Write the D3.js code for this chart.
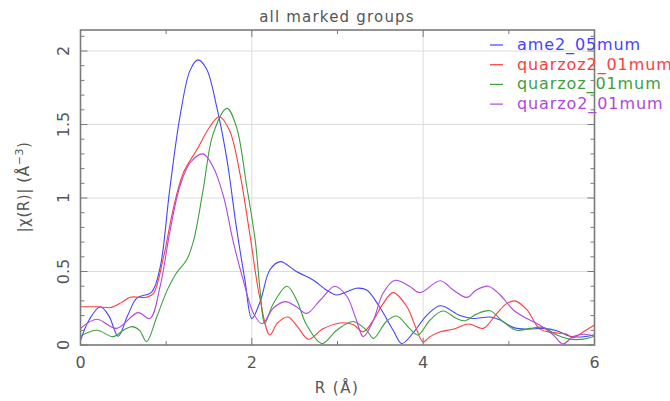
<!DOCTYPE html>
<html lang="en">
<head>
<meta charset="utf-8">
<title>all marked groups</title>
<script src="https://cdn.jsdelivr.net/npm/d3@7"></script>
<style>
  body { margin: 0; background: #fff; }
  svg text { font-family: "DejaVu Sans", sans-serif; fill: #555; }
</style>
</head>
<body>
<svg id="chart" width="670" height="401"></svg>
<script>
// R values (Å) and |chi(R)| for each marked group
var rAme = [0, 0.1, 0.23, 0.33, 0.44, 0.55, 0.66, 0.83, 0.93, 1.04, 1.16, 1.28, 1.37, 1.47, 1.59, 1.71, 1.82, 1.92, 2.0, 2.1, 2.21, 2.33, 2.52, 2.72, 2.87, 2.99, 3.1, 3.22, 3.34, 3.49, 3.65, 3.75, 3.88, 4.04, 4.2, 4.43, 4.58, 4.78, 4.9, 5.05, 5.21, 5.4, 5.56, 5.71, 5.87, 6.0];
var chiAme = [0.03, 0.17, 0.26, 0.2, 0.06, 0.2, 0.32, 0.36, 0.53, 1.05, 1.55, 1.87, 1.94, 1.88, 1.62, 1.26, 0.8, 0.44, 0.18, 0.3, 0.51, 0.567, 0.5, 0.44, 0.374, 0.34, 0.36, 0.386, 0.374, 0.26, 0.1, 0.01, 0.08, 0.2, 0.267, 0.2, 0.18, 0.19, 0.17, 0.12, 0.107, 0.113, 0.097, 0.06, 0.056, 0.07];

var rQz2 = [0, 0.2, 0.35, 0.48, 0.58, 0.77, 0.85, 0.97, 1.08, 1.2, 1.36, 1.51, 1.62, 1.74, 1.86, 1.98, 2.09, 2.21, 2.3, 2.42, 2.54, 2.66, 2.83, 3.03, 3.18, 3.3, 3.42, 3.53, 3.65, 3.81, 3.92, 4.0, 4.08, 4.2, 4.35, 4.53, 4.7, 4.86, 4.97, 5.07, 5.21, 5.36, 5.52, 5.67, 5.75, 5.87, 6.0];
var chiQz2 = [0.26, 0.26, 0.255, 0.29, 0.325, 0.325, 0.35, 0.6, 0.92, 1.17, 1.33, 1.485, 1.553, 1.46, 1.17, 0.74, 0.33, 0.068, 0.15, 0.19, 0.12, 0.039, 0.11, 0.15, 0.14, 0.09, 0.17, 0.28, 0.356, 0.26, 0.11, 0.02, 0.057, 0.09, 0.107, 0.143, 0.113, 0.215, 0.28, 0.3, 0.24, 0.11, 0.084, 0.075, 0.05, 0.09, 0.136];

var rQz = [0, 0.19, 0.38, 0.5, 0.6, 0.69, 0.77, 0.89, 1.01, 1.12, 1.24, 1.32, 1.43, 1.55, 1.71, 1.82, 1.94, 2.04, 2.1, 2.15, 2.25, 2.41, 2.52, 2.64, 2.82, 2.99, 3.18, 3.34, 3.42, 3.57, 3.69, 3.84, 3.94, 4.08, 4.23, 4.39, 4.49, 4.62, 4.78, 4.93, 5.09, 5.25, 5.4, 5.56, 5.71, 5.87, 6.0];
var chiQz = [0.06, 0.1, 0.057, 0.1, 0.125, 0.1, 0.023, 0.19, 0.37, 0.49, 0.58, 0.71, 1.05, 1.44, 1.61, 1.485, 1.08, 0.71, 0.35, 0.148, 0.28, 0.4, 0.31, 0.136, 0.01, 0.1, 0.16, 0.1, 0.045, 0.16, 0.197, 0.113, 0.068, 0.17, 0.231, 0.18, 0.165, 0.21, 0.233, 0.16, 0.1, 0.113, 0.12, 0.068, 0.04, 0.04, 0.06];

var rQo2 = [0, 0.19, 0.42, 0.67, 0.81, 0.93, 1.04, 1.16, 1.28, 1.43, 1.55, 1.67, 1.78, 1.9, 2.02, 2.12, 2.25, 2.39, 2.52, 2.64, 2.8, 2.97, 3.11, 3.22, 3.3, 3.42, 3.53, 3.67, 3.84, 3.96, 4.2, 4.35, 4.51, 4.62, 4.76, 4.9, 5.05, 5.21, 5.36, 5.52, 5.63, 5.75, 5.87, 6.0];
var chiQo2 = [0.113, 0.175, 0.113, 0.22, 0.18, 0.4, 0.76, 1.08, 1.24, 1.3, 1.21, 1.01, 0.71, 0.44, 0.215, 0.145, 0.25, 0.295, 0.26, 0.215, 0.306, 0.4, 0.33, 0.17, 0.057, 0.17, 0.35, 0.44, 0.4, 0.356, 0.437, 0.374, 0.324, 0.374, 0.4, 0.34, 0.24, 0.18, 0.136, 0.068, 0.007, 0.057, 0.073, 0.06];

var names = ["ame2_05mum", "quarzoz2_01mum", "quarzoz_01mum", "quarzo2_01mum"];
var colors = ["#4444ff", "#ff3c3c", "#3ca03c", "#b046e0"];
var xTicks = [0, 2, 4, 6];
var yTicks = [0, 0.5, 1, 1.5, 2];

var series = [
  {r: rAme, chi: chiAme},
  {r: rQz2, chi: chiQz2},
  {r: rQz, chi: chiQz},
  {r: rQo2, chi: chiQo2}
];

// plot box (window.top is read-only, so use other names)
var pL = 80.5, pR = 594.5, pT = 30, pB = 345;
var svg = d3.select("#chart");

var x = d3.scaleLinear().domain([0, 6]).range([pL, pR]);
var y = d3.scaleLinear().domain([0, 2.143]).range([pB, pT]);

// grid
svg.append("g").selectAll("line").data([2, 4]).join("line")
  .attr("x1", d => x(d)).attr("x2", d => x(d))
  .attr("y1", pT).attr("y2", pB)
  .attr("stroke", "#dcdcdc");
svg.append("g").selectAll("line").data([0.5, 1, 1.5, 2]).join("line")
  .attr("x1", pL).attr("x2", pR)
  .attr("y1", d => y(d)).attr("y2", d => y(d))
  .attr("stroke", "#dcdcdc");

// curves
svg.append("clipPath").attr("id", "clip").append("rect")
  .attr("x", pL).attr("y", pT).attr("width", pR - pL).attr("height", pB - pT);

var line = d3.line()
  .x(d => x(d[0])).y(d => y(d[1]))
  .curve(d3.curveCatmullRom.alpha(0.5));

series.forEach(function(s, i) {
  svg.append("path")
    .attr("clip-path", "url(#clip)")
    .attr("d", line(s.r.map((r, j) => [r, s.chi[j]])))
    .attr("fill", "none")
    .attr("stroke", colors[i])
    .attr("stroke-width", 1.1);
});

// frame ticks (inward, all four sides)
var fc = "#7a7a7a";
var tk = svg.append("g");
d3.range(0, 6.01, 1).forEach(function(v) {
  var len = (v % 2 === 0) ? 7 : 4;
  tk.append("line").attr("x1", x(v)).attr("x2", x(v)).attr("y1", pB).attr("y2", pB - len).attr("stroke", fc);
  tk.append("line").attr("x1", x(v)).attr("x2", x(v)).attr("y1", pT).attr("y2", pT + len).attr("stroke", fc);
});
d3.range(0, 22).forEach(function(k) {
  var v = k / 10;
  var len = (k % 5 === 0) ? 7 : 4;
  tk.append("line").attr("x1", pL).attr("x2", pL + len).attr("y1", y(v)).attr("y2", y(v)).attr("stroke", fc);
  tk.append("line").attr("x1", pR).attr("x2", pR - len).attr("y1", y(v)).attr("y2", y(v)).attr("stroke", fc);
});

svg.append("rect")
  .attr("x", pL).attr("y", pT)
  .attr("width", pR - pL).attr("height", pB - pT)
  .attr("fill", "none").attr("stroke", fc).attr("stroke-width", 1.6);

// tick labels
svg.append("g").selectAll("text").data(xTicks).join("text")
  .attr("x", d => x(d)).attr("y", 368)
  .attr("text-anchor", "middle")
  .style("font-size", "16px")
  .text(d => d);

svg.append("g").selectAll("text").data(yTicks).join("text")
  .attr("transform", d => "translate(69," + y(d) + ") rotate(-90)")
  .attr("text-anchor", "middle")
  .style("font-size", "16px")
  .text(d => d);

// titles
svg.append("text").attr("x", 337).attr("y", 22)
  .attr("text-anchor", "middle").style("font-size", "15px")
  .style("letter-spacing", "1.2px")
  .text("all marked groups");

svg.append("text").attr("x", 337).attr("y", 393)
  .attr("text-anchor", "middle").style("font-size", "15px")
  .style("letter-spacing", "1.5px")
  .text("R (Å)");

var yt = svg.append("text")
  .attr("transform", "translate(29,187) rotate(-90)")
  .attr("text-anchor", "middle").style("font-size", "15px")
  .style("letter-spacing", "0.6px");
yt.append("tspan").text("|χ(R)| (Å");
yt.append("tspan").attr("dy", -6).style("font-size", "11px").text("−3");
yt.append("tspan").attr("dy", 6).text(")");

// legend
var lg = svg.append("g");
names.forEach(function(n, i) {
  var yy = 45 + i * 19.7;
  lg.append("line").attr("x1", 490).attr("x2", 503).attr("y1", yy).attr("y2", yy)
    .attr("stroke", colors[i]).attr("stroke-width", 1.2);
  lg.append("text").attr("x", 517).attr("y", yy + 5)
    .style("font-size", "16px").style("letter-spacing", "0.9px")
    .style("fill", colors[i])
    .text(n);
});
</script>
</body>
</html>
